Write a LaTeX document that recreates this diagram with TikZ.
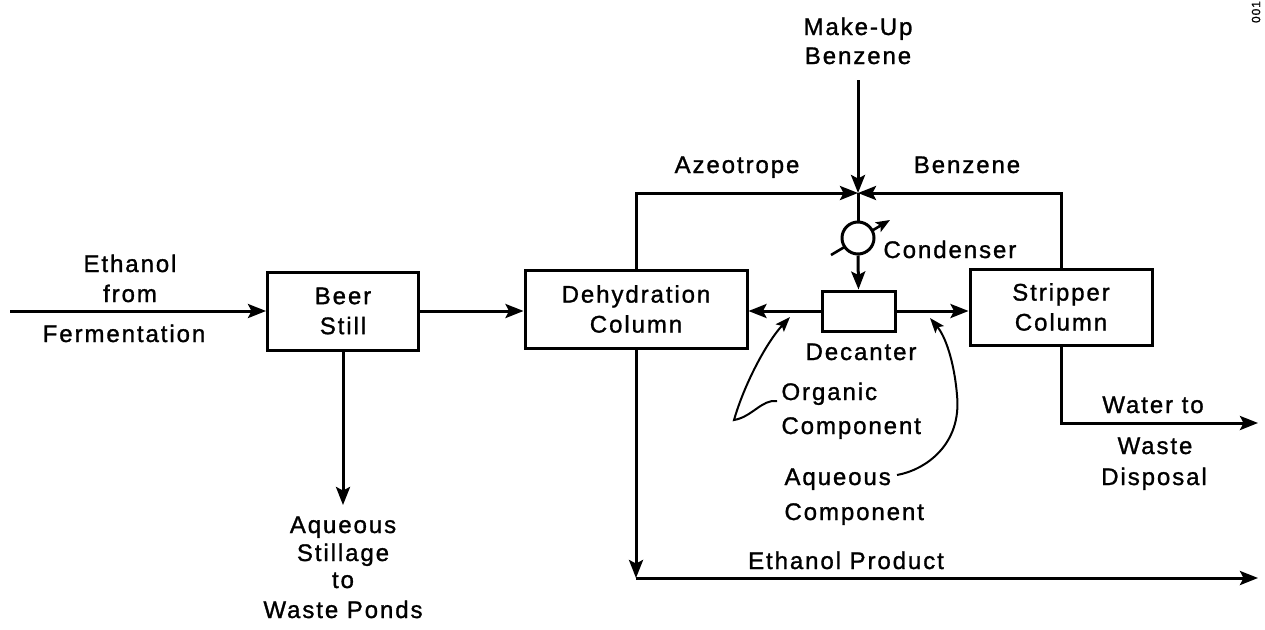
\documentclass[tikz,border=0pt]{standalone}
\usepackage{fontspec}
\setmainfont{Liberation Sans}[LetterSpace=8,FakeBold=1.2]
\usetikzlibrary{arrows.meta}
\begin{document}
\begin{tikzpicture}[x=1pt,y=-1pt,
  font=\fontsize{24}{30}\selectfont,
  line width=3pt,
  box/.style={draw, line width=3pt, inner sep=0pt, align=center},
  flow/.style={-{Stealth[length=18pt,width=14pt,inset=3.5pt]}},
  ptr/.style={line width=2pt, -{Stealth[length=15pt,width=11pt,inset=3pt]}},
  lbl/.style={inner sep=0pt, anchor=base},
  lblw/.style={inner sep=0pt, anchor=base west},
]
\useasboundingbox (0,0) rectangle (1265,629);

% condenser control arrow (drawn under the condenser circle)
\coordinate (d1) at (831,255);
\coordinate (d2) at (890,220);
\draw[line width=2.6pt, -{Stealth[length=14pt,width=11pt,inset=3pt]}] (d1) -- (d2);

% units
\node[box, minimum width=151pt, minimum height=78pt] (beer) at (343,311) {Beer\\Still};
\node[box, minimum width=222pt, minimum height=78pt] (dehyd) at (636,309) {Dehydration\\Column};
\node[box, minimum width=73pt, minimum height=40pt] (dec) at (858.5,311) {};
\node[box, minimum width=182pt, minimum height=76pt] (strip) at (1061,307) {Stripper\\Column};
\node[draw, circle, fill=white, line width=3pt, minimum size=32pt, inner sep=0pt] (cond) at (858,238) {};

% free ends
\coordinate (in) at (10,311);
\coordinate (still) at (343,505);
\coordinate (junc) at (858,193);
\coordinate (mu) at (858,80);
\coordinate (water) at (1258,423);
\coordinate (corner) at (636,578);
\coordinate (prod) at (1258,578);
\coordinate (o1) at (777,401);
\coordinate (o2) at (790,317);
\coordinate (a1) at (897,475);
\coordinate (a2) at (930,318);

% connectors
\draw[flow] (in) -- (beer.west);
\draw[flow] (beer.east) -- (beer.east -| dehyd.west);
\draw[flow] (beer.south) -- (still);
\draw[flow] (dehyd.north) |- (junc);
\draw[flow] (mu) -- (junc);
\draw[flow] (strip.north) |- (junc);
\draw (junc) -- (cond.north);
\draw[flow] (cond.south) -- (dec.north);
\draw[flow] (dec.west) -- (dec.west -| dehyd.east);
\draw[flow] (dec.east) -- (dec.east -| strip.west);
\draw[flow] (strip.south) |- (water);
\draw[flow] (dehyd.south) -- (corner);
\draw[flow] (corner) -- (prod);

% pointers
\draw[ptr] (o1) .. controls (762,399) and (752,417) .. (734,420) .. controls (744,385) and (766,343) .. (o2);
\draw[ptr] (a1) .. controls (925,470) and (962,445) .. (957,395) .. controls (954,360) and (945,336) .. (a2);

% labels
\node[lbl] (t1) at (130,272) {Ethanol};
\node[lbl] (t2) at (130,302) {from};
\node[lbl] (t3) at (124,342) {Fermentation};
\node[lbl] (t4) at (858,35) {Make-Up};
\node[lbl] (t5) at (858,64) {Benzene};
\node[lbl] (t6) at (737,173) {Azeotrope};
\node[lbl] (t7) at (967,173) {Benzene};
\node[lblw] (t8) at (882,258) {Condenser};
\node[lbl] (t9) at (861,360) {Decanter};
\node[lblw] (t10) at (780,400) {Organic};
\node[lblw] (t11) at (780,434) {Component};
\node[lblw] (t12) at (783,485) {Aqueous};
\node[lblw] (t13) at (783,520) {Component};
\node[lbl] (t14) at (343,533) {Aqueous};
\node[lbl] (t15) at (343,561) {Stillage};
\node[lbl] (t16) at (343,588) {to};
\node[lbl] (t17) at (343,618) {Waste Ponds};
\node[lbl] (t18) at (1153,413) {Water to};
\node[lbl] (t19) at (1155,454) {Waste};
\node[lbl] (t20) at (1154,485) {Disposal};
\node[lbl] (t21) at (846,569) {Ethanol Product};
\node[inner sep=0pt, rotate=90, font=\fontsize{12}{14}\selectfont] (t22) at (1256,12) {001};
\end{tikzpicture}
\end{document}
